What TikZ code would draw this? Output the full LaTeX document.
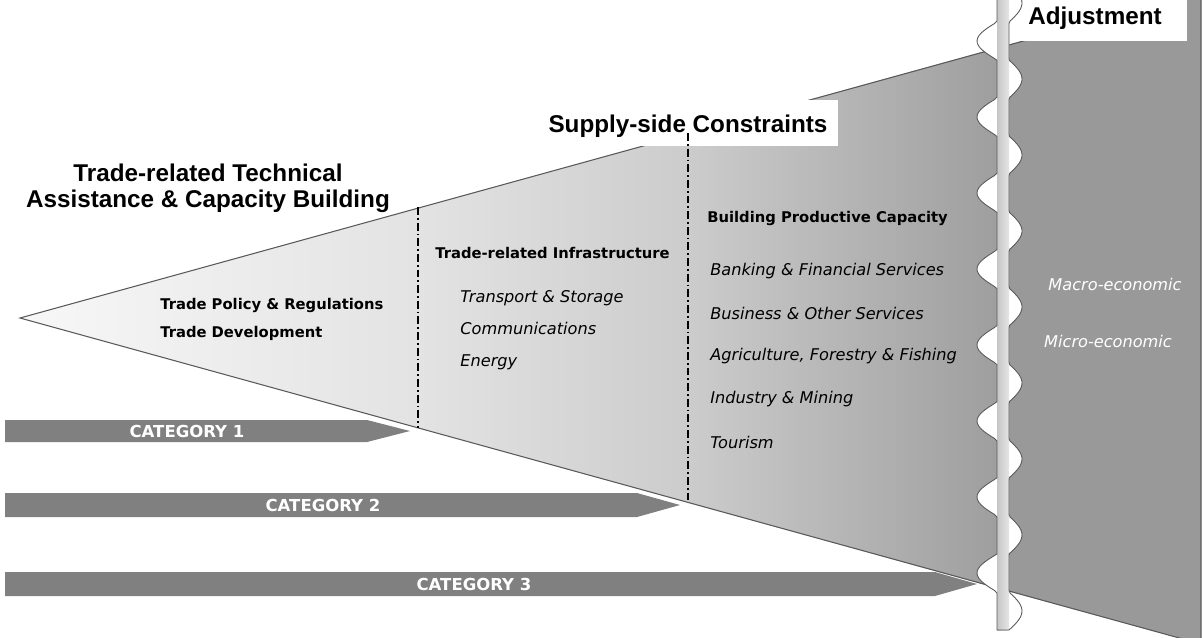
\documentclass[tikz,border=0pt]{standalone}
\usepackage{fontspec}
\usepackage{tikz}
\usetikzlibrary{positioning}
\newfontfamily\headfont{Liberation Sans}
\newfontfamily\bodyfont{DejaVu Sans}
\definecolor{catgrey}{gray}{0.5}
\definecolor{flatgrey}{gray}{0.6}
\definecolor{edgegrey}{gray}{0.35}
\definecolor{funA}{gray}{0.97}
\definecolor{funB}{gray}{0.89}
\definecolor{funC}{gray}{0.80}
\definecolor{funD}{gray}{0.62}
\pgfdeclarehorizontalshading{funnel}{100bp}{color(0bp)=(funA); color(25bp)=(funA); color(45.3bp)=(funB); color(59.1bp)=(funC); color(75bp)=(funD); color(100bp)=(funD)}
\tikzset{
  headtext/.style={font=\headfont\bfseries\fontsize{13.8}{14.8}\selectfont, inner sep=0pt},
  boldtext/.style={font=\bodyfont\bfseries\fontsize{8.4}{10}\selectfont, anchor=west, inner sep=0pt},
  itemtext/.style={font=\bodyfont\itshape\fontsize{9.2}{11}\selectfont, anchor=west, inner sep=0pt},
  cattext/.style={font=\bodyfont\bfseries\fontsize{9.4}{11}\selectfont, text=white, inner sep=0pt},
  catbar/.style={fill=catgrey},
  whitebox/.style={fill=white, inner sep=0pt},
  divider/.style={black, line width=0.9pt, dash pattern=on 4.5pt off 1.7pt on 1pt off 1.7pt},
}

\begin{document}
\begin{tikzpicture}[x=0.02cm, y=-0.02cm]
  \useasboundingbox (0,0) rectangle (1204,637);

  % category arrows
  \fill[catbar] (5,420) -- (367,420) -- (410,431) -- (367,442) -- (5,442) -- cycle;
  \fill[catbar] (5,493) -- (637,493) -- (680,505) -- (637,517) -- (5,517) -- cycle;
  \fill[catbar] (5,572) -- (935,572) -- (977,584) -- (935,596) -- (5,596) -- cycle;
  \node[cattext] (cat1) at (187,431) {CATEGORY 1};
  \node[cattext] (cat2) at (323,505) {CATEGORY 2};
  \node[cattext] (cat3) at (474,584) {CATEGORY 3};

  % funnel
  \shade[shading=funnel] (20,318) -- (1000,47) -- (1000,589) -- cycle;
  \fill[flatgrey] (1000,47) -- (1201,-8) -- (1201,644) -- (1000,589) -- cycle;
  \draw[edgegrey, line width=0.6pt] (1201,-8) -- (20,318) -- (1201,644) -- cycle;

  \draw[divider] (418,207) -- (418,428);

  % label boxes
  \node[whitebox, minimum width=6cm, minimum height=0.92cm] (supplybox) at (688,123) {};
  \node[headtext] (supply) at (688,126) {Supply-side Constraints};
  \node[whitebox, minimum width=3.68cm, minimum height=0.92cm] (adjustbox) at (1095,18) {};
  \node[headtext] (adjust) at (1095,18) {Adjustment};

  \draw[divider] (688,133) -- (688,500);

  % twisted band
  \fill[white]
    plot[domain=-6:630, samples=260, variable=\t] ({997-20*max(0,cos(4.7368*(\t-193)))},\t)
    -- plot[domain=630:-6, samples=260, variable=\t] ({1009+13*max(0,-cos(4.7368*(\t-193)))},\t)
    -- cycle;
  \shade[left color=gray!45, middle color=white, right color=gray!20] (997,-6) rectangle (1009,630);
  \draw[edgegrey, line width=0.5pt]
    plot[domain=-6:630, samples=260, variable=\t] ({997-20*max(0,cos(4.7368*(\t-193)))},\t)
    -- plot[domain=630:-6, samples=260, variable=\t] ({1009+13*max(0,-cos(4.7368*(\t-193)))},\t);

  % texts
  \node[headtext, align=center] (trta) at (208,188) {Trade-related Technical\\Assistance \& Capacity Building};
  \node[boldtext] (policy) at (160,305) {Trade Policy \& Regulations};
  \node[boldtext] (develop) at (160,333) {Trade Development};
  \node[boldtext] (infra) at (435,253) {Trade-related Infrastructure};
  \node[boldtext] (bpc) at (707,218) {Building Productive Capacity};

  \foreach \y/\txt [count=\n] in {298/Transport \& Storage, 328/Communications, 362/Energy} {
    \node[itemtext] (infra\n) at (460,\y) {\txt};
  }
  \foreach \y/\txt [count=\n] in {271/Banking \& Financial Services, 313/Business \& Other Services,
      356/{Agriculture, Forestry \& Fishing}, 399/Industry \& Mining, 442/Tourism} {
    \node[itemtext] (bpc\n) at (710,\y) {\txt};
  }

  \node[itemtext, anchor=center, text=white] (macro) at (1115,284) {Macro-economic};
  \node[itemtext, anchor=center, text=white] (micro) at (1108,341) {Micro-economic};
\end{tikzpicture}
\end{document}
